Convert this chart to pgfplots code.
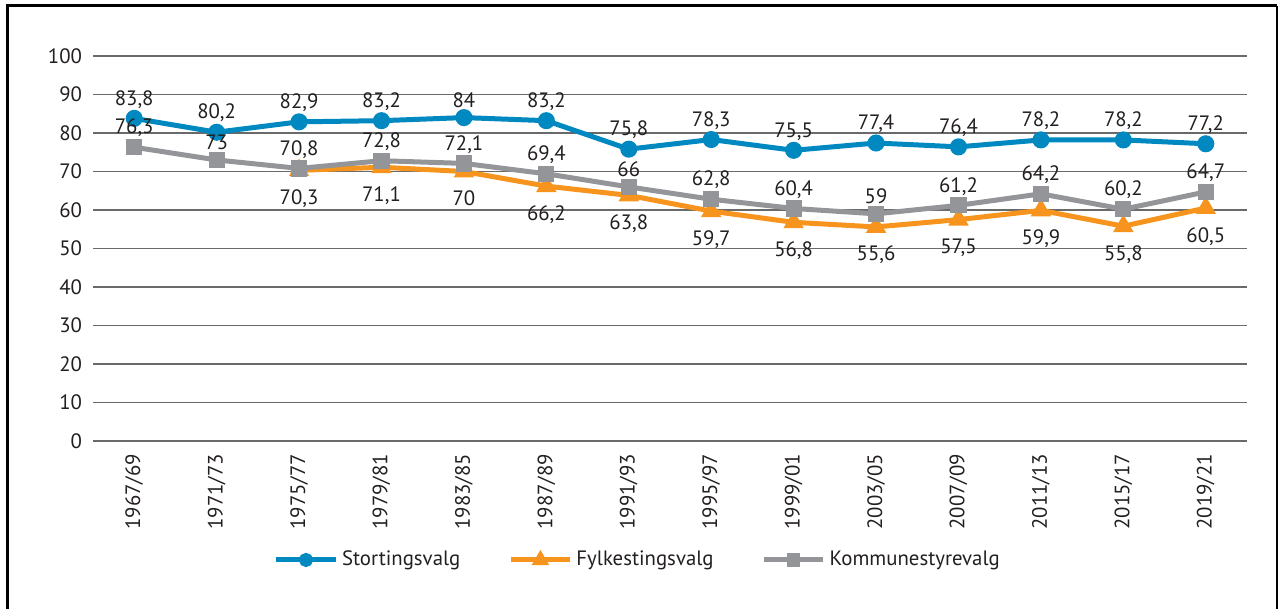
\documentclass[border=0pt]{standalone}
\usepackage{pgfplots}
\pgfplotsset{compat=1.18}
\usepackage{fontspec}
\setmainfont{PT Sans}
\definecolor{cBlue}{HTML}{0088C0}
\definecolor{cOrange}{HTML}{F7941D}
\definecolor{cGray}{HTML}{939598}
\definecolor{cText}{HTML}{231F20}
\definecolor{cGrid}{HTML}{6A6A6A}
\newcommand{\lblfont}{\fontsize{10.4}{12}\selectfont}

\begin{document}
\begin{tikzpicture}
% page frame
\path (-46.5pt,-82.5pt) rectangle (594pt,220.5pt);
\draw[line width=1.5pt] (-42.5pt,-84pt) -- (-42.5pt,217.5pt) -- (592pt,217.5pt);
\draw[line width=0.6pt] (592pt,217.5pt) -- (592pt,-84pt);

\begin{axis}[
    at={(0,0)}, anchor=south west,
    scale only axis, width=577pt, height=192.5pt,
    xmin=-0.5, xmax=13.5, ymin=0, ymax=100,
    ytick={0,10,...,100},
    xtick={0,...,13},
    xticklabels={1967/69,1971/73,1975/77,1979/81,1983/85,1987/89,1991/93,1995/97,1999/01,2003/05,2007/09,2011/13,2015/17,2019/21},
    x tick label style={rotate=90, anchor=east},
    xticklabel shift=3pt,
    yticklabel style={xshift=-2pt},
    axis line style={draw=none},
    ymajorgrids, grid style={cGrid, line width=0.6pt},
    major tick length=0pt,
    tick label style={font=\lblfont, text=cText},
    /pgf/number format/assume math mode=true,
    /pgf/number format/use comma,
    nodes near coords style={font=\lblfont, text=cText},
    legend style={at={(0.473,-0.309)}, anchor=center, draw=none, fill=none,
        legend columns=3, font=\lblfont, text=cText,
        /tikz/every even column/.append style={column sep=22pt}},
    legend image code/.code={\draw[#1, mark options={scale=0.75}, mark repeat=2, mark phase=2] plot coordinates {(0cm,0cm)(0.52cm,0cm)(1.04cm,0cm)};},
]
\addplot[cBlue, line width=2.5pt, mark=*, mark size=3pt,
    nodes near coords, every node near coord/.append style={anchor=south, yshift=0.5pt}]
coordinates {
(0,83.8)(1,80.2)(2,82.9)(3,83.2)(4,84)(5,83.2)(6,75.8)(7,78.3)(8,75.5)(9,77.4)(10,76.4)(11,78.2)(12,78.2)(13,77.2)
};
\addlegendentry{Stortingsvalg}
\addplot[cOrange, line width=2.5pt, mark=triangle*, mark size=3.4pt,
    nodes near coords, every node near coord/.append style={anchor=north, yshift=-5pt}]
coordinates {
(2,70.3)(3,71.1)(4,70)(5,66.2)(6,63.8)(7,59.7)(8,56.8)(9,55.6)(10,57.5)(11,59.9)(12,55.8)(13,60.5)
};
\addlegendentry{Fylkestingsvalg}
\addplot[cGray, line width=2.5pt, mark=square*, mark size=2.8pt,
    nodes near coords, every node near coord/.append style={anchor=south, yshift=0.5pt}]
coordinates {
(0,76.3)(1,73)(2,70.8)(3,72.8)(4,72.1)(5,69.4)(6,66)(7,62.8)(8,60.4)(9,59)(10,61.2)(11,64.2)(12,60.2)(13,64.7)
};
\addlegendentry{Kommunestyrevalg}
\end{axis}
\end{tikzpicture}
\end{document}
